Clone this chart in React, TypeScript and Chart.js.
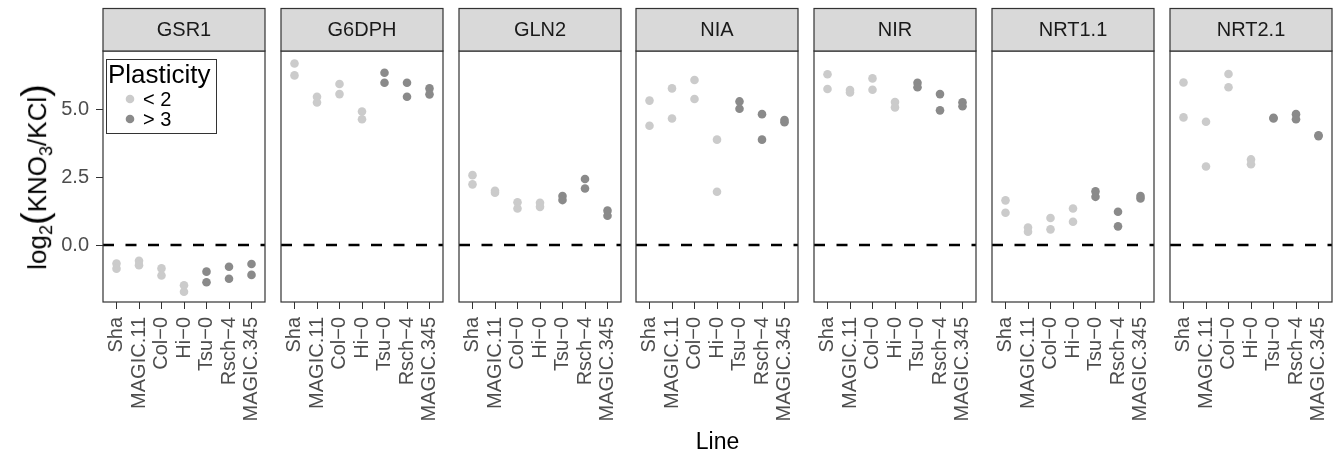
import React, { useEffect, useRef } from "react";
import { Chart, registerables } from "chart.js";

Chart.register(...registerables);

// ---------- data ----------
const lines = ["Sha", "MAGIC.11", "Col\u22120", "Hi\u22120", "Tsu\u22120", "Rsch\u22124", "MAGIC.345"];
const plasticity = ["< 2", "< 2", "< 2", "< 2", "> 3", "> 3", "> 3"];
const legendLevels = ["< 2", "> 3"];
const genes = ["GSR1", "G6DPH", "GLN2", "NIA", "NIR", "NRT1.1", "NRT2.1"];
const yTicks = [0, 2.5, 5];

// two replicate values per line, in the order of `lines`
const GSR1 = [[-0.68, -0.87], [-0.58, -0.74], [-0.86, -1.12], [-1.48, -1.72], [-0.98, -1.37], [-0.8, -1.24], [-0.7, -1.1]];
const G6DPH = [[6.7, 6.26], [5.47, 5.26], [5.94, 5.57], [4.93, 4.64], [6.36, 5.99], [5.99, 5.47], [5.78, 5.56]];
const GLN2 = [[2.58, 2.24], [2.0, 1.93], [1.58, 1.35], [1.56, 1.41], [1.81, 1.66], [2.44, 2.09], [1.27, 1.08]];
const NIA = [[5.33, 4.4], [5.78, 4.67], [6.09, 5.39], [3.89, 1.97], [5.3, 5.03], [4.83, 3.89], [4.61, 4.53]];
const NIR = [[6.3, 5.76], [5.72, 5.63], [6.15, 5.73], [5.28, 5.08], [5.99, 5.82], [5.57, 4.97], [5.27, 5.12]];
const NRT1_1 = [[1.65, 1.19], [0.65, 0.49], [1.0, 0.58], [1.35, 0.86], [1.98, 1.78], [1.23, 0.69], [1.81, 1.72]];
const NRT2_1 = [[6.0, 4.71], [4.55, 2.9], [6.31, 5.82], [3.16, 2.98], [4.7, 4.67], [4.83, 4.64], [4.05, 4.02]];
const geneValues = [GSR1, G6DPH, GLN2, NIA, NIR, NRT1_1, NRT2_1];

// ---------- layout / style ----------
const W = 1335;
const H = 457;
const PANEL_LEFT0 = 103;
const PANEL_STEP = 177.75;
const PANEL_W = 162;
const PLOT_TOP = 51;
const PLOT_BOTTOM = 302;
const STRIP_TOP = 8.5;
const SIDE_PAD = 30;
const Y_MIN = -2.1;
const Y_MAX = 7.16;
const FONT = '"Liberation Sans", Arial, Helvetica, sans-serif';
const LIGHT = "#cbcbcb";
const DARK = "#8a8a8a";
const colorFor: Record<string, string> = { "< 2": LIGHT, "> 3": DARK };

function makeDeco(gene: string, isFirst: boolean) {
  return {
    id: "panelDeco",
    beforeDatasetsDraw(chart: any) {
      const { ctx, chartArea: a, scales } = chart;
      const y0 = scales.y.getPixelForValue(0);
      ctx.save();
      ctx.strokeStyle = "#000";
      ctx.lineWidth = 2.5;
      ctx.setLineDash([11, 11.5]);
      ctx.beginPath();
      ctx.moveTo(a.left, y0);
      ctx.lineTo(a.right, y0);
      ctx.stroke();
      ctx.restore();
    },
    afterDraw(chart: any) {
      const { ctx, chartArea: a } = chart;
      ctx.save();
      // panel border
      ctx.strokeStyle = "#333333";
      ctx.lineWidth = 1.2;
      ctx.strokeRect(a.left, a.top, a.right - a.left, a.bottom - a.top);
      // strip
      ctx.fillStyle = "#d9d9d9";
      ctx.fillRect(a.left, STRIP_TOP, a.right - a.left, a.top - STRIP_TOP);
      ctx.strokeRect(a.left, STRIP_TOP, a.right - a.left, a.top - STRIP_TOP);
      ctx.fillStyle = "#1a1a1a";
      ctx.font = `20px ${FONT}`;
      ctx.textAlign = "center";
      ctx.textBaseline = "middle";
      ctx.fillText(gene, (a.left + a.right) / 2, (STRIP_TOP + a.top) / 2 + 1);
      // legend
      if (isFirst) {
        const bx = 106, by = 59, bw = 110, bh = 74;
        ctx.fillStyle = "#ffffff";
        ctx.fillRect(bx, by, bw, bh);
        ctx.strokeStyle = "#333333";
        ctx.lineWidth = 1;
        ctx.strokeRect(bx + 0.5, by + 0.5, bw, bh);
        ctx.fillStyle = "#000";
        ctx.textAlign = "left";
        ctx.textBaseline = "alphabetic";
        ctx.font = `26px ${FONT}`;
        ctx.fillText("Plasticity", 108, 83);
        ctx.font = `20px ${FONT}`;
        ctx.textBaseline = "middle";
        legendLevels.forEach((lvl, k) => {
          const cy = 99 + k * 20;
          ctx.fillStyle = colorFor[lvl];
          ctx.beginPath();
          ctx.arc(130, cy, 4.3, 0, Math.PI * 2);
          ctx.fill();
          ctx.fillStyle = "#000";
          ctx.fillText(lvl, 143, cy + 1);
        });
      }
      ctx.restore();
    },
  };
}

function Panel({ index }: { index: number }) {
  const ref = useRef<HTMLCanvasElement>(null);
  const isFirst = index === 0;
  const left = Math.round(PANEL_LEFT0 + index * PANEL_STEP);
  const canvasLeft = isFirst ? 0 : left - SIDE_PAD;
  const canvasWidth = left + PANEL_W + SIDE_PAD - canvasLeft;

  useEffect(() => {
    const values = geneValues[index];
    const byLevel: Record<string, { x: number; y: number }[]> = { "< 2": [], "> 3": [] };
    values.forEach((pair, i) => pair.forEach((v) => byLevel[plasticity[i]].push({ x: i, y: v })));

    const yScale: any = {
      type: "linear",
      min: Y_MIN,
      max: Y_MAX,
      display: isFirst,
      afterBuildTicks: (s: any) => {
        s.ticks = yTicks.map((v) => ({ value: v }));
      },
      grid: { drawOnChartArea: false, drawTicks: true, tickLength: 7, tickColor: "#333333", tickWidth: 1 },
      border: { display: false },
      ticks: {
        padding: 7,
        color: "#4d4d4d",
        font: { family: FONT, size: 20 },
        callback: (v: any) => Number(v).toFixed(1),
      },
    };
    if (isFirst) {
      yScale.afterFit = (s: any) => {
        s.width = left;
      };
    }

    const chart = new Chart(ref.current as HTMLCanvasElement, {
      type: "scatter",
      data: {
        datasets: legendLevels.map((lvl) => ({
          label: lvl,
          data: byLevel[lvl],
          backgroundColor: colorFor[lvl],
          borderWidth: 0,
          pointRadius: 4.3,
          pointHoverRadius: 4.3,
        })),
      },
      options: {
        responsive: false,
        animation: false,
        devicePixelRatio: 1,
        events: [],
        layout: { padding: { left: isFirst ? 0 : SIDE_PAD, right: SIDE_PAD, top: PLOT_TOP, bottom: 0 } },
        plugins: { legend: { display: false }, tooltip: { enabled: false }, title: { display: false } },
        scales: {
          x: {
            type: "linear",
            min: -0.6,
            max: 6.6,
            afterBuildTicks: (s: any) => {
              s.ticks = lines.map((_, i) => ({ value: i }));
            },
            afterFit: (s: any) => {
              s.height = H - PLOT_BOTTOM;
            },
            grid: { drawOnChartArea: false, drawTicks: true, tickLength: 7, tickColor: "#333333", tickWidth: 1 },
            border: { display: false },
            ticks: {
              autoSkip: false,
              minRotation: 90,
              maxRotation: 90,
              padding: 8,
              color: "#4d4d4d",
              font: { family: FONT, size: 20 },
              callback: (v: any) => lines[Math.round(Number(v))] ?? "",
            },
          },
          y: yScale,
        },
      },
      plugins: [makeDeco(genes[index], isFirst)],
    });
    return () => chart.destroy();
  }, []);

  return (
    <canvas
      ref={ref}
      width={canvasWidth}
      height={H}
      style={{ position: "absolute", left: canvasLeft, top: 0, width: canvasWidth, height: H }}
    />
  );
}

export default function App() {
  const panelCenter = (PANEL_LEFT0 + Math.round(PANEL_LEFT0 + 6 * PANEL_STEP) + PANEL_W) / 2;
  const sub: React.CSSProperties = { fontSize: "0.7em", position: "relative", top: "0.35em" };
  const paren: React.CSSProperties = { fontSize: "1.45em", position: "relative", top: "0.02em" };
  return (
    <div style={{ position: "fixed", left: 0, top: 0, width: W, height: H, background: "#fff", overflow: "hidden" }}>
      {genes.map((g, i) => (
        <Panel key={g} index={i} />
      ))}
      <div
        style={{
          position: "absolute",
          left: 34,
          top: (PLOT_TOP + PLOT_BOTTOM) / 2,
          transform: "translate(-50%, -50%) rotate(-90deg)",
          whiteSpace: "nowrap",
          fontFamily: FONT,
          fontSize: 26,
          lineHeight: 1,
          color: "#000",
        }}
      >
        log<span style={sub}>2</span>
        <span style={paren}>(</span>KNO<span style={sub}>3</span>/KCl<span style={paren}>)</span>
      </div>
      <div
        style={{
          position: "absolute",
          left: panelCenter,
          top: 430,
          transform: "translateX(-50%)",
          whiteSpace: "nowrap",
          fontFamily: FONT,
          fontSize: 23,
          lineHeight: "23px",
          color: "#000",
        }}
      >
        Line
      </div>
    </div>
  );
}
